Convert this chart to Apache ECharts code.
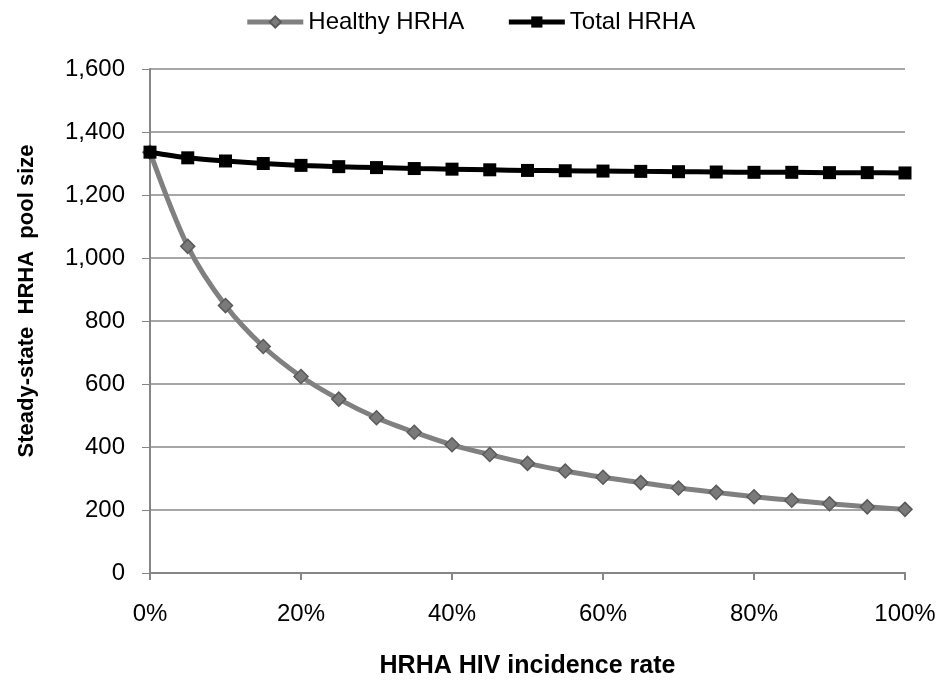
<!DOCTYPE html>
<html>
<head>
<meta charset="utf-8">
<script src="https://cdn.jsdelivr.net/npm/echarts@6/dist/echarts.min.js"></script>
<style>
  html, body { margin: 0; padding: 0; background: #fff; }
  #chart { width: 940px; height: 681px; }
</style>
</head>
<body>
<div id="chart"></div>
<script>
// incidence rate steps, 0% .. 100% by 5%
const rates = ['0%', '5%', '10%', '15%', '20%', '25%', '30%', '35%', '40%', '45%', '50%',
  '55%', '60%', '65%', '70%', '75%', '80%', '85%', '90%', '95%', '100%']

const healthyHRHA = [1336, 1037, 849, 719, 624, 552, 493, 447, 407, 376, 348,
  324, 304, 287, 270, 256, 242, 231, 220, 210, 202]

const totalHRHA = [1336, 1318, 1308, 1300, 1294, 1290, 1287, 1284, 1282, 1280, 1278,
  1277, 1276, 1275, 1274, 1273, 1272, 1272, 1271, 1271, 1270]

const fontFamily = '"Liberation Sans", Arial, sans-serif'

const chart = echarts.init(document.getElementById('chart'))

chart.setOption({
  backgroundColor: '#fff',
  animation: false,
  textStyle: { fontFamily: fontFamily },
  legend: {
    top: 5,
    left: 'center',
    itemWidth: 56,
    itemHeight: 14,
    itemGap: 42,
    lineStyle: { width: 5 },
    textStyle: { fontSize: 24, color: '#000', fontFamily: fontFamily },
    data: ['Healthy HRHA', 'Total HRHA']
  },
  grid: {
    left: 150,
    right: 35,
    top: 69,
    bottom: 108,
    outerBoundsMode: 'none'
  },
  xAxis: {
    type: 'category',
    data: rates,
    boundaryGap: false,
    name: 'HRHA HIV incidence rate',
    nameLocation: 'middle',
    nameGap: 81,
    nameTextStyle: { fontSize: 25, fontWeight: 'bold', color: '#000' },
    axisLine: { lineStyle: { color: '#868686', width: 2 } },
    axisTick: { interval: 3, length: 7, lineStyle: { color: '#868686', width: 2 } },
    axisLabel: { interval: 3, fontSize: 24, color: '#000', margin: 29 },
    splitLine: { show: false }
  },
  yAxis: {
    type: 'value',
    min: 0,
    max: 1600,
    interval: 200,
    name: 'Steady-state  HRHA  pool size',
    nameLocation: 'middle',
    nameGap: 112,
    // title sits a bit above the plot's middle
    nameTextStyle: { fontSize: 22, fontWeight: 'bold', color: '#000', padding: [0, 0, 0, 40] },
    axisLine: { show: true, lineStyle: { color: '#868686', width: 2 } },
    axisTick: { show: true, inside: false, length: 8, lineStyle: { color: '#868686', width: 1 } },
    axisLabel: {
      fontSize: 24,
      color: '#000',
      margin: 25,
      formatter: v => v.toLocaleString('en-US')
    },
    splitLine: { lineStyle: { color: '#a6a6a6', width: 2 } }
  },
  series: [
    {
      name: 'Healthy HRHA',
      type: 'line',
      data: healthyHRHA,
      smooth: 0.3,
      symbol: 'diamond',
      symbolSize: 14,
      lineStyle: { color: '#808080', width: 5 },
      itemStyle: { color: '#7a7a7a', borderColor: '#5a5a5a', borderWidth: 1.5 },
      z: 3
    },
    {
      name: 'Total HRHA',
      type: 'line',
      data: totalHRHA,
      smooth: 0.3,
      symbol: 'rect',
      symbolSize: 13,
      lineStyle: { color: '#000', width: 5 },
      itemStyle: { color: '#000', borderColor: '#000', borderWidth: 0 },
      z: 4
    }
  ]
})
</script>
</body>
</html>
